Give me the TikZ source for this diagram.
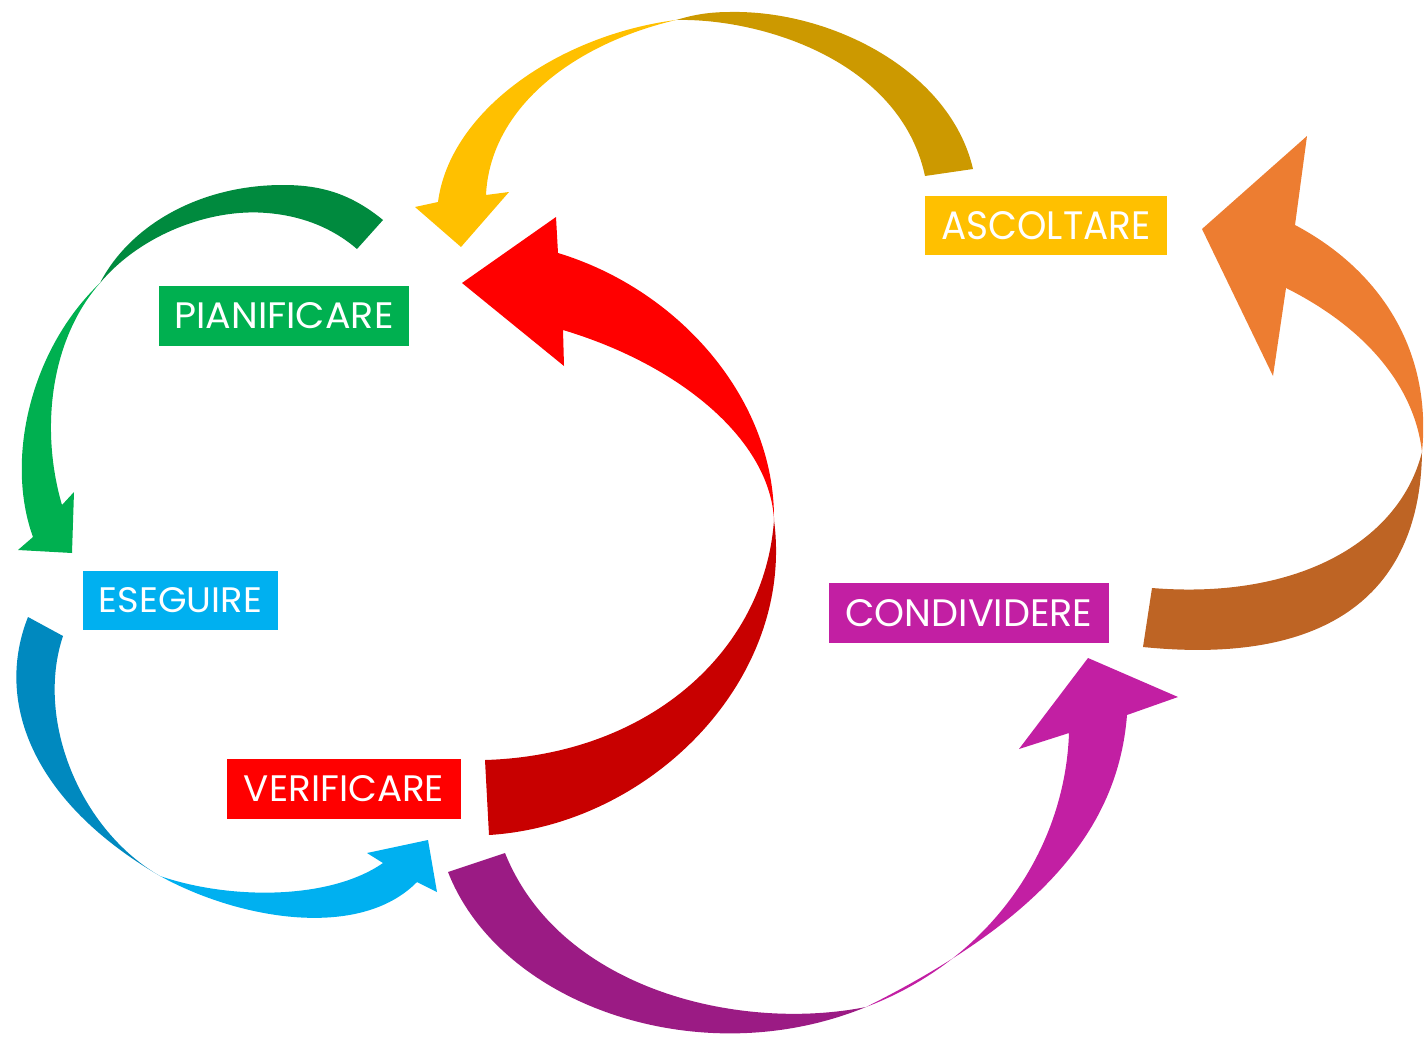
\documentclass[tikz,border=0pt]{standalone}
\usepackage{fontspec}
\usepackage{graphicx}
\newfontfamily\labfont{Poppins}
\definecolor{gLight}{HTML}{00B050}
\definecolor{gDark}{HTML}{008A3E}
\definecolor{yLight}{HTML}{FFC000}
\definecolor{yDark}{HTML}{CC9900}
\definecolor{rLight}{HTML}{FF0000}
\definecolor{rDark}{HTML}{C80000}
\definecolor{oLight}{HTML}{ED7D31}
\definecolor{oDark}{HTML}{BE6424}
\definecolor{mLight}{HTML}{C21FA3}
\definecolor{mDark}{HTML}{9B1B84}
\definecolor{bLight}{HTML}{00B0F0}
\definecolor{bDark}{HTML}{0089BF}
\newcommand{\fitt}[3]{\resizebox{#1}{#2}{#3}}
\begin{document}
\begin{tikzpicture}[x=1pt,y=-1pt,
  lbl/.style={fill=#1, inner sep=0pt, text=white, font=\labfont}]
\useasboundingbox (0,0) rectangle (1426,1038);

% ---------- green ribbon (PIANIFICARE -> ESEGUIRE) ----------
\fill[gDark] (383,220) .. controls (350,193) and (320,185) .. (283,185)
  .. controls (200,185) and (130,225) .. (100,283)
  .. controls (140,235) and (210,208) .. (267,213)
  .. controls (305,216) and (335,230) .. (357,249) -- cycle;
\fill[gLight] (100,283) .. controls (30,350) and (5,460) .. (33,537)
  -- (18,550) -- (72,553) -- (74,492) -- (62,505)
  .. controls (40,430) and (50,340) .. (100,283) -- cycle;

% ---------- yellow ribbon (ASCOLTARE -> PIANIFICARE) ----------
\fill[yDark] (973,169) .. controls (950,70) and (830,10) .. (730,12)
  .. controls (705,12) and (690,16) .. (676,20)
  .. controls (760,18) and (900,60) .. (925,176) -- cycle;
\fill[yLight] (676,20) .. controls (560,35) and (450,110) .. (438,202)
  -- (415,207) -- (461,247) -- (509,192) -- (486,195)
  .. controls (490,110) and (570,45) .. (676,20) -- cycle;

% ---------- red ribbon (VERIFICARE -> PIANIFICARE) ----------
\fill[rDark] (489,835) .. controls (650,825) and (795,680) .. (774,520)
  .. controls (765,650) and (650,755) .. (485,760) -- cycle;
\fill[rLight] (774,520) .. controls (775,400) and (680,290) .. (558,253)
  -- (556,217) -- (462,283) -- (564,366) -- (563,330)
  .. controls (680,365) and (770,440) .. (774,520) -- cycle;

% ---------- orange ribbon (CONDIVIDERE -> ASCOLTARE) ----------
\fill[oDark] (1143,647) .. controls (1320,665) and (1420,600) .. (1422,452)
  .. controls (1400,540) and (1300,600) .. (1152,588) -- cycle;
\fill[oLight] (1422,452) .. controls (1432,350) and (1380,270) .. (1295,225)
  -- (1307,136) -- (1202,229) -- (1273,376) -- (1286,288)
  .. controls (1370,330) and (1415,390) .. (1422,452) -- cycle;

% ---------- magenta ribbon (VERIFICARE -> CONDIVIDERE) ----------
\fill[mDark] (448,872) .. controls (500,1005) and (700,1075) .. (866,1007)
  .. controls (740,1032) and (560,990) .. (505,853) -- cycle;
\fill[mLight] (866,1007) .. controls (1040,920) and (1118,830) .. (1127,715)
  -- (1178,697) -- (1088,658) -- (1019,749) -- (1069,733)
  .. controls (1065,850) and (990,960) .. (866,1007) -- cycle;

% ---------- blue ribbon (ESEGUIRE -> VERIFICARE) ----------
\fill[bDark] (28,617) .. controls (-5,700) and (30,800) .. (160,876)
  .. controls (80,830) and (35,720) .. (63,636) -- cycle;
\fill[bLight] (160,876) .. controls (240,920) and (360,940) .. (417,882)
  -- (437,892) -- (428,840) -- (367,853) -- (383,863)
  .. controls (330,900) and (230,900) .. (160,876) -- cycle;

% ---------- labels ----------
\node[lbl=gLight, minimum width=250pt, minimum height=60pt] (pian) at (284,316) {\fitt{219pt}{26pt}{PIANIFICARE}};
\node[lbl=bLight, minimum width=195pt, minimum height=59pt] (eseg) at (180.5,600.5) {\fitt{163pt}{25pt}{ESEGUIRE}};
\node[lbl=rLight, minimum width=234pt, minimum height=60pt] (veri) at (344,789) {\fitt{200pt}{26pt}{VERIFICARE}};
\node[lbl=yLight, minimum width=242pt, minimum height=59pt] (asco) at (1046,225.5) {\fitt{209pt}{28pt}{ASCOLTARE}};
\node[lbl=mLight, minimum width=280pt, minimum height=60pt] (cond) at (969,613) {\fitt{247pt}{27pt}{CONDIVIDERE}};
\end{tikzpicture}
\end{document}
